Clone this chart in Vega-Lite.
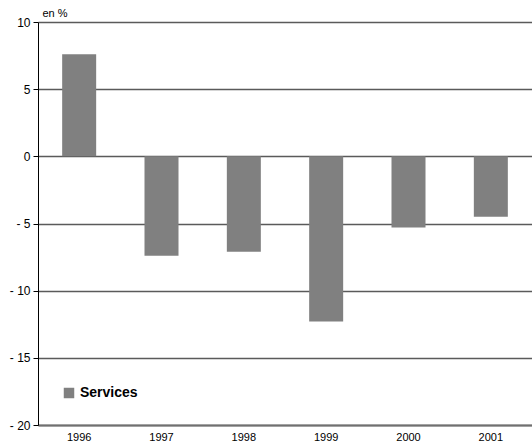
{
  "$schema": "https://vega.github.io/schema/vega-lite/v6.json",
  "width": 494,
  "height": 403,
  "autosize": {"type": "none"},
  "padding": {"left": 38, "top": 22, "right": 0, "bottom": 22},
  "background": "#ffffff",
  "config": {"view": {"stroke": null}, "font": "Liberation Sans"},
  "data": {"values": [
    {"year": "1996", "value": 7.6, "series": "Services"},
    {"year": "1997", "value": -7.4, "series": "Services"},
    {"year": "1998", "value": -7.1, "series": "Services"},
    {"year": "1999", "value": -12.3, "series": "Services"},
    {"year": "2000", "value": -5.3, "series": "Services"},
    {"year": "2001", "value": -4.5, "series": "Services"}
  ]},
  "mark": {"type": "bar", "width": 34},
  "encoding": {
    "x": {
      "field": "year", "type": "nominal",
      "scale": {"paddingInner": 0.5, "paddingOuter": 0.25},
      "axis": {"title": null, "labelAngle": 0, "labelFontSize": 11, "labelColor": "#000", "labelPadding": 6, "ticks": false, "domainColor": "#707070", "domainWidth": 2, "grid": false}
    },
    "y": {
      "field": "value", "type": "quantitative",
      "scale": {"domain": [-20, 10], "nice": false, "zero": false},
      "axis": {
        "values": [-20, -15, -10, -5, 0, 5, 10],
        "labelExpr": "datum.value < 0 ? '- ' + abs(datum.value) : datum.label",
        "labelFontSize": 12, "labelColor": "#000", "labelPadding": 3,
        "tickSize": 5, "tickColor": "#000", "domainColor": "#000", "domainWidth": 1,
        "grid": true, "gridColor": "#5a5a5a", "gridWidth": 1.3,
        "title": "en %", "titleAngle": 0, "titleX": 4, "titleY": -6,
        "titleAlign": "left", "titleBaseline": "alphabetic",
        "titleFontSize": 11, "titleFontWeight": "normal", "titleColor": "#000"
      }
    },
    "color": {
      "field": "series", "type": "nominal",
      "scale": {"range": ["#808080"]},
      "legend": {
        "title": null, "orient": "none", "legendX": 24, "legendY": 364,
        "symbolType": "square", "symbolSize": 110, "symbolStrokeWidth": 0,
        "labelFontSize": 14, "labelFontWeight": "bold", "labelColor": "#000", "labelOffset": 4
      }
    }
  }
}
